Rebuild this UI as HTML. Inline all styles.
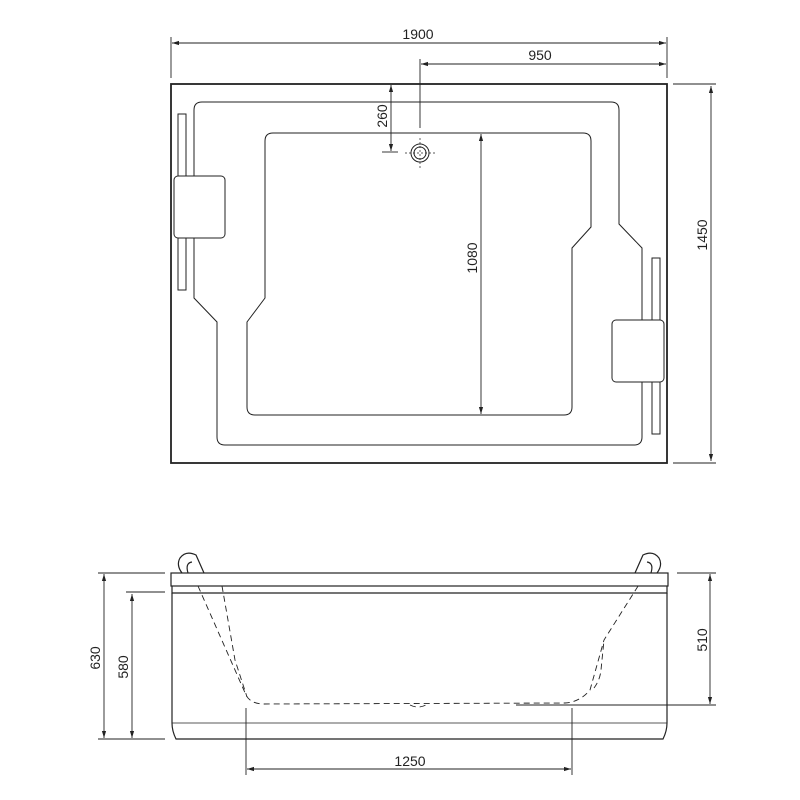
<!DOCTYPE html>
<html><head><style>body{margin:0;background:#fff}svg{display:block}</style></head><body>
<svg width="800" height="800" viewBox="0 0 800 800" xmlns="http://www.w3.org/2000/svg" font-family="Liberation Sans, sans-serif" font-size="14" fill="none" stroke="#222">
<defs><marker id="a" viewBox="0 0 10 10" refX="10" refY="5" markerWidth="8" markerHeight="8" orient="auto-start-reverse"><path d="M0,2L10,5L0,8z" fill="#222" stroke="none"/></marker></defs>
<g stroke-width="0.9">
<!-- top dims -->
<line x1="171" y1="37" x2="171" y2="78"/><line x1="667" y1="37" x2="667" y2="78"/>
<line x1="172" y1="43" x2="666" y2="43" marker-start="url(#a)" marker-end="url(#a)"/>
<line x1="420" y1="59" x2="420" y2="128"/>
<line x1="421" y1="64" x2="666" y2="64" marker-start="url(#a)" marker-end="url(#a)"/>
<line x1="391" y1="85" x2="391" y2="151" marker-start="url(#a)" marker-end="url(#a)"/>
<line x1="382" y1="152" x2="398" y2="152"/>
<line x1="673" y1="84" x2="716" y2="84"/><line x1="673" y1="463" x2="716" y2="463"/>
<line x1="711" y1="86" x2="711" y2="461" marker-start="url(#a)" marker-end="url(#a)"/>
<line x1="481" y1="134" x2="481" y2="414" marker-start="url(#a)" marker-end="url(#a)"/>
</g>
<rect x="171" y="84" width="496" height="379" stroke-width="1.8"/>
<g stroke-width="1">
<path d="M202,102 H611 Q619,102 619,110 V224 L642,248 V437 Q642,445 634,445 H225 Q217,445 217,437 V322 L194,298 V110 Q194,102 202,102Z"/>
<path d="M273,133 H583 Q591,133 591,141 V227 L572,248 V407 Q572,415 564,415 H255 Q247,415 247,407 V322 L265,298 V141 Q265,133 273,133Z"/>
<circle cx="420" cy="153" r="9"/><circle cx="420" cy="153" r="6"/>
<path d="M405,153H435M420,138V170" stroke-dasharray="2 2" stroke-width="0.7"/>
<rect x="178" y="114" width="8" height="176" fill="#fff"/>
<rect x="174" y="176" width="51" height="62" rx="4" fill="#fff"/>
<rect x="652" y="258" width="8" height="176" fill="#fff"/>
<rect x="612" y="320" width="52" height="62" rx="4" fill="#fff"/>
</g>
<g fill="#222" stroke="none">
<text x="418" y="39" text-anchor="middle">1900</text>
<text x="540" y="60" text-anchor="middle">950</text>
<text transform="translate(387,116) rotate(-90)" text-anchor="middle">260</text>
<text transform="translate(477,258) rotate(-90)" text-anchor="middle">1080</text>
<text transform="translate(707,235) rotate(-90)" text-anchor="middle">1450</text>
<text transform="translate(100,658) rotate(-90)" text-anchor="middle">630</text>
<text transform="translate(128,667) rotate(-90)" text-anchor="middle">580</text>
<text transform="translate(707,640) rotate(-90)" text-anchor="middle">510</text>
<text x="410" y="766" text-anchor="middle">1250</text>
</g>
<!-- side view -->
<g stroke-width="1.2">
<rect x="171" y="573" width="497" height="13"/>
<path d="M172,586 V593 H667 V586"/>
<path d="M172,593 V723 Q172,731 176,739 H663 Q667,731 667,723 V593"/>
<line x1="172" y1="723" x2="667" y2="723" stroke-width="0.8"/>
<path d="M182,573 Q176,565 180,558 Q186,550 196,555 L204,573 M188,573 Q185,563 192,562" />
<path d="M657,573 Q663,565 659,558 Q653,550 643,555 L635,573 M651,573 Q654,563 647,562"/>
</g>
<g stroke-width="0.9" stroke-dasharray="6 4">
<path d="M198,586 L246,695 Q250,703 262,704 L565,703 Q580,702 590,690 L604,640 L640,583"/>
<path d="M222,586 L235,660 L247,697"/>
<path d="M594,688 Q600,680 601,670 L604,640"/>
<path d="M410,705 Q418,709 426,705"/>
</g>
<g stroke-width="0.9">
<line x1="98" y1="573" x2="165" y2="573"/><line x1="98" y1="739" x2="165" y2="739"/>
<line x1="104" y1="574" x2="104" y2="738" marker-start="url(#a)" marker-end="url(#a)"/>
<line x1="126" y1="592" x2="165" y2="592"/>
<line x1="132" y1="594" x2="132" y2="738" marker-start="url(#a)" marker-end="url(#a)"/>
<line x1="677" y1="573" x2="716" y2="573"/><line x1="516" y1="705" x2="716" y2="705"/>
<line x1="710" y1="574" x2="710" y2="704" marker-start="url(#a)" marker-end="url(#a)"/>
<line x1="246" y1="708" x2="246" y2="775"/><line x1="572" y1="708" x2="572" y2="775"/>
<line x1="247" y1="769" x2="571" y2="769" marker-start="url(#a)" marker-end="url(#a)"/>
</g>
</svg>
</body></html>
